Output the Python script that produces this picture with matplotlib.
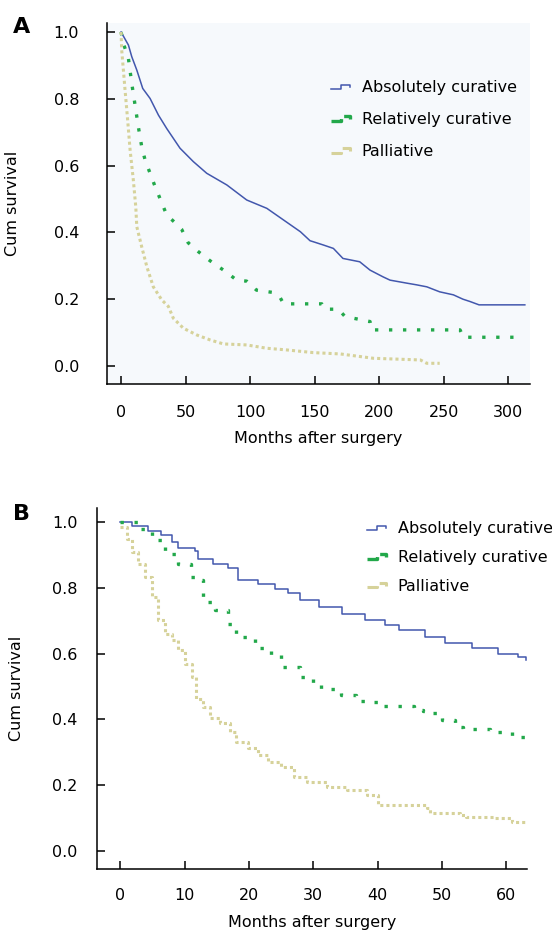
#!/usr/bin/env python3
"""Kaplan-Meier style survival curves, two panels (all follow-up / first 60 months)."""
import matplotlib
matplotlib.use("Agg")
import matplotlib.pyplot as plt
from matplotlib.lines import Line2D
from matplotlib.legend_handler import HandlerLine2D

# ---- data (months, cumulative survival) ----
labels = ["Absolutely curative", "Relatively curative", "Palliative"]

# panel A (dense curves, drawn point to point)
a_abs_t = [0, 5.7, 8.3, 12.2, 16.8, 22.5, 29, 35.4, 45.7, 56, 66.4, 82, 97.4, 113, 126,
           139, 146.5, 149, 157, 164.6, 172, 185, 193, 203, 208.5, 221.5, 229, 237, 247,
           257.6, 265, 270.5, 277.5, 313]
a_abs_s = [1.0, 0.961, 0.926, 0.886, 0.831, 0.801, 0.751, 0.711, 0.652, 0.612, 0.577, 0.542,
           0.497, 0.472, 0.437, 0.402, 0.375, 0.372, 0.362, 0.352, 0.322, 0.312, 0.287, 0.267,
           0.257, 0.248, 0.243, 0.237, 0.222, 0.213, 0.2, 0.193, 0.183, 0.183]

a_rel_t = [0, 2.3, 5.7, 8.3, 10.9, 13.4, 16, 18.6, 22.5, 26.4, 29.6, 35.4, 43, 47, 52, 60,
           69, 82, 89.6, 97.4, 105, 118, 123, 126, 155.6, 158, 168.5, 173.6, 193, 194,
           262.8, 265.3, 312]
a_rel_s = [1.0, 0.96, 0.921, 0.846, 0.78, 0.716, 0.657, 0.617, 0.577, 0.537, 0.507, 0.452,
           0.425, 0.409, 0.369, 0.342, 0.315, 0.28, 0.257, 0.254, 0.227, 0.22, 0.207, 0.186,
           0.186, 0.17, 0.17, 0.148, 0.133, 0.108, 0.108, 0.086, 0.086]

a_pal_t = [0, 0.5, 1.8, 3.1, 4.9, 7, 9.5, 11.4, 12.2, 16, 20, 25, 31.5, 36.7, 40.5, 48.3,
           58.6, 69, 79.3, 97.4, 113, 128.5, 149, 170, 195.6, 232, 237, 247]
a_pal_s = [1.0, 0.946, 0.886, 0.826, 0.746, 0.647, 0.557, 0.477, 0.417, 0.357, 0.297, 0.237,
           0.198, 0.178, 0.143, 0.113, 0.093, 0.078, 0.066, 0.063, 0.053, 0.048, 0.04, 0.036,
           0.023, 0.018, 0.008, 0.008]

# panel B (drawn as steps)
b_abs_t = [0, 1.8, 4.4, 6.4, 8, 9, 11.6, 12.1, 14.4, 16.7, 18.3, 21.4, 24, 26, 28, 30.9,
           34.5, 38, 41.2, 43.3, 47.4, 50.5, 54.6, 58.7, 61.8, 63]
b_abs_s = [1.0, 0.988, 0.973, 0.96, 0.94, 0.92, 0.913, 0.889, 0.874, 0.859, 0.824, 0.813,
           0.798, 0.783, 0.763, 0.742, 0.722, 0.702, 0.687, 0.672, 0.651, 0.631, 0.616, 0.6,
           0.59, 0.582]

b_rel_t = [0, 2.8, 4.9, 7, 9, 11, 12.1, 12.9, 14.7, 16.7, 18, 20.9, 23.4, 25, 28, 29.9,
           31.2, 34.3, 36.6, 38.9, 40.4, 45.6, 47.1, 48.2, 50, 52, 53.3, 57.4, 60.8, 63]
b_rel_s = [1.0, 0.98, 0.947, 0.904, 0.874, 0.833, 0.824, 0.758, 0.732, 0.69, 0.651, 0.616,
           0.596, 0.56, 0.53, 0.508, 0.494, 0.474, 0.457, 0.453, 0.44, 0.43, 0.426, 0.418,
           0.398, 0.378, 0.37, 0.362, 0.347, 0.335]

b_pal_t = [0, 1.0, 1.8, 2.8, 3.9, 4.9, 5.9, 7, 8, 9, 10, 11.1, 11.8, 12.9, 13.9, 15.5, 17,
           18, 19.8, 21.4, 22.9, 25, 27, 29.1, 32.2, 35.3, 38.4, 40, 47.7, 48.2, 52.8, 53.8,
           58, 60.8, 63]
b_pal_s = [0.985, 0.95, 0.909, 0.874, 0.833, 0.773, 0.702, 0.661, 0.641, 0.611, 0.57, 0.53,
           0.462, 0.438, 0.403, 0.388, 0.362, 0.332, 0.312, 0.292, 0.271, 0.254, 0.226, 0.211,
           0.195, 0.185, 0.17, 0.14, 0.13, 0.116, 0.109, 0.102, 0.099, 0.089, 0.085]

a_xticks = [0, 50, 100, 150, 200, 250, 300]
b_xticks = [0, 10, 20, 30, 40, 50, 60]
yticks = [0.0, 0.2, 0.4, 0.6, 0.8, 1.0]

BLUE = "#4257ad"
GREEN = "#22a84a"
KHAKI = "#d6d29a"
FS = 11.5

plt.rcParams["font.family"] = "DejaVu Sans"


class StepHandler(HandlerLine2D):
    # small step icon like the SPSS legend
    def create_artists(self, legend, orig_handle, xdescent, ydescent, width, height, fontsize, trans):
        x0 = -xdescent
        yb = -ydescent + height * 0.3
        yt = -ydescent + height * 0.7
        xs = [x0, x0 + width * 0.45, x0 + width * 0.45, x0 + width * 0.9, x0 + width * 0.9]
        ys = [yb, yb, yt, yt, yt - height * 0.25]
        ln = Line2D(xs, ys, color=orig_handle.get_color(), linestyle=orig_handle.get_linestyle(),
                    linewidth=orig_handle.get_linewidth())
        ln.set_transform(trans)
        return [ln]


def panel(ax, curves, steps, xlim, ylim, xticks, xpad, ypad, letter, legend_anchor, leg_space):
    styles = [dict(color=BLUE, lw=1.1, ls="-"),
              dict(color=GREEN, lw=2.4, ls=(0, (1, 3.2))),
              dict(color=KHAKI, lw=2.2, ls=(0, (1, 1)))]
    handles = []
    for (t, s), st, lab in zip(curves, styles, labels):
        if steps:
            ln, = ax.step(t, s, where="post", label=lab, **st)
        else:
            ln, = ax.plot(t, s, label=lab, **st)
        handles.append(ln)
    ax.set_xlim(*xlim)
    ax.set_ylim(*ylim)
    ax.set_xticks(xticks)
    ax.set_yticks(yticks)
    ax.set_yticklabels([f"{v:.1f}" for v in yticks])
    for sp in ["top", "right"]:
        ax.spines[sp].set_visible(False)
    for sp in ["left", "bottom"]:
        ax.spines[sp].set_linewidth(1.1)
    ax.tick_params(axis="both", direction="in", length=6, width=1.1, labelsize=FS)
    ax.tick_params(axis="x", pad=xpad)
    ax.tick_params(axis="y", pad=ypad)
    ax.set_xlabel("Months after surgery", fontsize=FS, labelpad=8)
    ax.set_ylabel("Cum survival", fontsize=FS)
    ax.text(letter[0], letter[1], letter[2], transform=ax.figure.transFigure,
            fontsize=16, fontweight="bold", ha="center", va="center")
    ax.legend(handles=handles, loc="upper left", bbox_to_anchor=legend_anchor,
              bbox_transform=ax.figure.transFigure, frameon=False, fontsize=FS,
              handlelength=1.3, handletextpad=0.6, labelspacing=leg_space,
              borderaxespad=0, handler_map={Line2D: StepHandler()})


fig = plt.figure(figsize=(5.52, 9.31), dpi=100)

axA = fig.add_axes([107 / 552, 1 - 384 / 931, 423 / 552, 361 / 931])
axA.set_facecolor("#f6f9fc")
panel(axA, [(a_abs_t, a_abs_s), (a_rel_t, a_rel_s), (a_pal_t, a_pal_s)], False,
      (-10.9, 317), (-0.054, 1.027), a_xticks, 15, 20,
      (22 / 552, 1 - 27 / 931, "A"), (325 / 552, 1 - 74 / 931), 1.05)
axA.yaxis.set_label_coords(-0.205, 0.5)

axB = fig.add_axes([97 / 552, 1 - 869 / 931, 430 / 552, 361 / 931])
panel(axB, [(b_abs_t, b_abs_s), (b_rel_t, b_rel_s), (b_pal_t, b_pal_s)], True,
      (-3.6, 63.2), (-0.055, 1.043), b_xticks, 14, 14,
      (22 / 552, 1 - 514 / 931, "B"), (361 / 552, 1 - 515 / 931), 0.85)
axB.yaxis.set_label_coords(-0.17, 0.5)

fig.savefig("out.png", dpi=100)
